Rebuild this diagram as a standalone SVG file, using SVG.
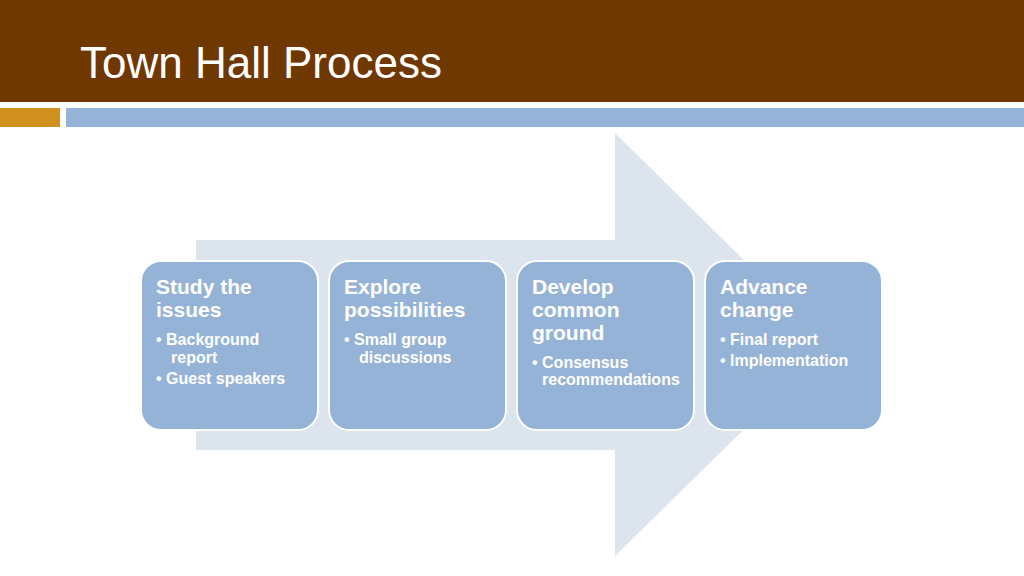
<svg xmlns="http://www.w3.org/2000/svg" width="1024" height="576" viewBox="0 0 1024 576">
<style>
.box{fill:#95B3D7;stroke:#fff;stroke-width:2}
.t{font-family:"Liberation Sans",Arial,sans-serif;fill:#fff;font-weight:bold}
.h{font-size:21px}
.b{font-size:16px}
</style>
<rect width="1024" height="576" fill="#fff"/>
<rect x="0" y="0" width="1024" height="102" fill="#6F3800"/>
<text x="80" y="78" font-family="'Liberation Sans',Arial,sans-serif" font-size="44" fill="#fff">Town Hall Process</text>
<rect x="0" y="108" width="60" height="19" fill="#D0901E"/>
<rect x="66" y="108" width="958" height="19" fill="#95B3D7"/>
<g id="arrow"><polygon points="196,240 615,240 615,133 830,345 615,556 615,450 196,450" fill="#DCE4EE"/></g>
<g id="n1"><rect class="box" x="141" y="261" width="177" height="169" rx="20"/>
<text class="t h" x="156" y="294">Study the</text><text class="t h" x="156" y="317">issues</text>
<text class="t b" x="156" y="345">•  Background</text><text class="t b" x="171" y="363">report</text><text class="t b" x="156" y="384">•  Guest speakers</text></g>
<g id="n2"><rect class="box" x="329" y="261" width="177" height="169" rx="20"/>
<text class="t h" x="344" y="294">Explore</text><text class="t h" x="344" y="317">possibilities</text>
<text class="t b" x="344" y="345">•  Small group</text><text class="t b" x="359" y="363">discussions</text></g>
<g id="n3"><rect class="box" x="517" y="261" width="177" height="169" rx="20"/>
<text class="t h" x="532" y="294">Develop</text><text class="t h" x="532" y="317">common</text><text class="t h" x="532" y="340">ground</text>
<text class="t b" x="532" y="368">• Consensus</text><text class="t b" x="542" y="385">recommendations</text></g>
<g id="n4"><rect class="box" x="705" y="261" width="177" height="169" rx="20"/>
<text class="t h" x="720" y="294">Advance</text><text class="t h" x="720" y="317">change</text>
<text class="t b" x="720" y="345">•  Final report</text><text class="t b" x="720" y="366">•  Implementation</text></g>
<g id="connectors"/>
</svg>
